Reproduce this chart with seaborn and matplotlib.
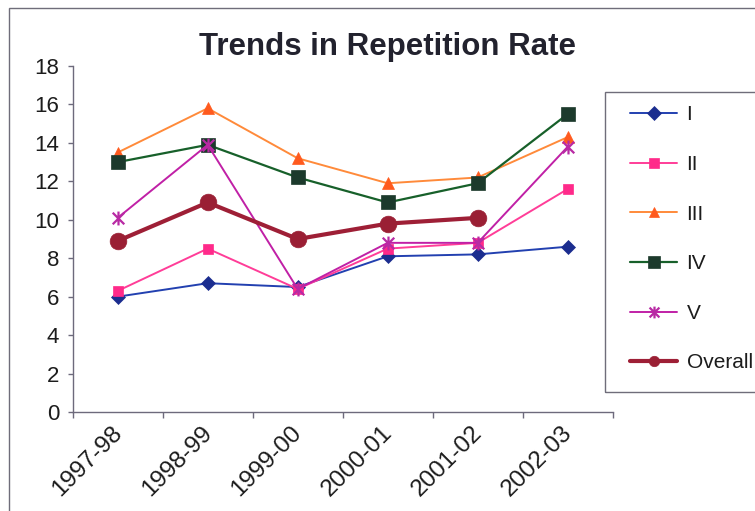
import numpy as np
import pandas as pd
import matplotlib
matplotlib.use("Agg")
import matplotlib.pyplot as plt
from matplotlib.path import Path
from matplotlib.patches import Rectangle
from matplotlib.ticker import FixedLocator
from matplotlib.transforms import ScaledTranslation
import seaborn as sns

# Repetition rate (%) by class and school year
years = ["1997-98", "1998-99", "1999-00", "2000-01", "2001-02", "2002-03"]
class_I = [6.0, 6.7, 6.5, 8.1, 8.2, 8.6]
class_II = [6.3, 8.5, 6.4, 8.5, 8.8, 11.6]
class_III = [13.5, 15.8, 13.2, 11.9, 12.2, 14.3]
class_IV = [13.0, 13.9, 12.2, 10.9, 11.9, 15.5]
class_V = [10.1, 13.9, 6.4, 8.8, 8.8, 13.8]
overall = [8.9, 10.9, 9.0, 9.8, 10.1, np.nan]
series_names = ["I", "II", "III", "IV", "V", "Overall"]

df = pd.DataFrame({
    "year": years * 6,
    "series": np.repeat(series_names, len(years)),
    "rate": class_I + class_II + class_III + class_IV + class_V + overall,
})

sns.set_style("white")
plt.rcParams["font.family"] = ["Liberation Sans", "DejaVu Sans"]

W, H = 755, 511
fig = plt.figure(figsize=(W / 100, H / 100), dpi=100)
ax_left, ax_right, ax_top, ax_bottom = 72.7, 612.7, 66.0, 412.0
ax = fig.add_axes([ax_left / W, 1 - ax_bottom / H,
                   (ax_right - ax_left) / W, (ax_bottom - ax_top) / H])

# asterisk marker: an X crossed by a vertical stroke
ast_verts = [(-0.5, -0.5), (0.5, 0.5), (-0.5, 0.5), (0.5, -0.5), (0, -0.6), (0, 0.6)]
ast_codes = [Path.MOVETO, Path.LINETO] * 3
asterisk = Path(ast_verts, ast_codes)

styles = {
    "I":       dict(color="#2240b0", mfc="#1b2d8f", mec="#1b2d8f", marker="D", ms=7.0, lw=1.4, mew=0.5),
    "II":      dict(color="#ff3d98", mfc="#ff2a8a", mec="#ff2a8a", marker="s", ms=7.2, lw=1.4, mew=0.5),
    "III":     dict(color="#ff8a3a", mfc="#ff5a1e", mec="#ff5a1e", marker="^", ms=8.5, lw=1.4, mew=0.5),
    "IV":      dict(color="#17602a", mfc="#1c3a2c", mec="#1c3a2c", marker="s", ms=10.0, lw=1.6, mew=0.5),
    "V":       dict(color="#c020a6", mfc="none", mec="#b82aa4", marker=asterisk, ms=10.0, lw=1.4, mew=1.6),
    "Overall": dict(color="#9e1f36", mfc="#9a1f34", mec="#9a1f34", marker="o", ms=12.0, lw=3.0, mew=0.5),
}
legend_ms = {"I": 7.0, "II": 6.8, "III": 7.5, "IV": 8.5, "V": 8.5, "Overall": 7.5}

for name in series_names:
    st = styles[name]
    sub = df[df["series"] == name].dropna()
    sns.lineplot(data=sub, x="year", y="rate", ax=ax, label=name,
                 color=st["color"], marker=st["marker"], markersize=st["ms"],
                 markerfacecolor=st["mfc"], markeredgecolor=st["mec"],
                 markeredgewidth=st["mew"], linewidth=st["lw"],
                 sort=False, clip_on=False)

axis_col = "#6d6a7c"
text_col = "#1c1c1c"
ax.set_xlim(-0.5, len(years) - 0.5)
ax.set_ylim(0, 18)
ax.set_yticks(np.arange(0, 19, 2))
ax.set_xticks(range(len(years)))
ax.set_xticklabels(years, rotation=45, ha="right", va="top", rotation_mode="anchor")
ax.xaxis.set_minor_locator(FixedLocator(np.arange(-0.5, len(years), 1.0)))
ax.set_xlabel("")
ax.set_ylabel("")
for side in ["top", "right"]:
    ax.spines[side].set_visible(False)
for side in ["left", "bottom"]:
    ax.spines[side].set_color(axis_col)
    ax.spines[side].set_linewidth(1.0)
ax.tick_params(axis="y", direction="out", length=3.8, width=1.0, color=axis_col,
               labelsize=16, labelcolor=text_col, pad=6, left=True)
ax.tick_params(axis="x", which="major", length=0, labelsize=17.5, labelcolor=text_col, pad=7)
ax.tick_params(axis="x", which="minor", direction="out", length=4.5, width=1.0,
               color=axis_col, bottom=True)
shift = ScaledTranslation(-5 / 72, 0, fig.dpi_scale_trans)
for lbl in ax.get_xticklabels():
    lbl.set_transform(lbl.get_transform() + shift)

fig.text(387 / W, 1 - 47 / H, "Trends in Repetition Rate", ha="center", va="center",
         fontsize=22.5, fontweight="bold", color="#22222e")

handles, labels = ax.get_legend_handles_labels()
ax.get_legend().remove()
leg = fig.legend(handles, labels, loc="upper left",
                 bbox_to_anchor=(622 / W, 1 - 97 / H), frameon=False,
                 fontsize=15, handlelength=2.25, handletextpad=0.45,
                 labelspacing=1.47, borderaxespad=0)
for h, name in zip(leg.legend_handles, series_names):
    h.set_markersize(legend_ms[name])
for t in leg.get_texts():
    t.set_color(text_col)

# legend box and outer chart border
fig.patches.append(Rectangle((605 / W, 1 - 392 / H), 300 / W, 300 / H,
                             transform=fig.transFigure, fill=False,
                             edgecolor="#6f6d7a", linewidth=1.0))
fig.patches.append(Rectangle((9 / W, -0.2), 1.2, 1.2 - 8 / H,
                             transform=fig.transFigure, fill=False,
                             edgecolor="#6f6d7a", linewidth=1.0))

fig.savefig("out.png", dpi=100)
